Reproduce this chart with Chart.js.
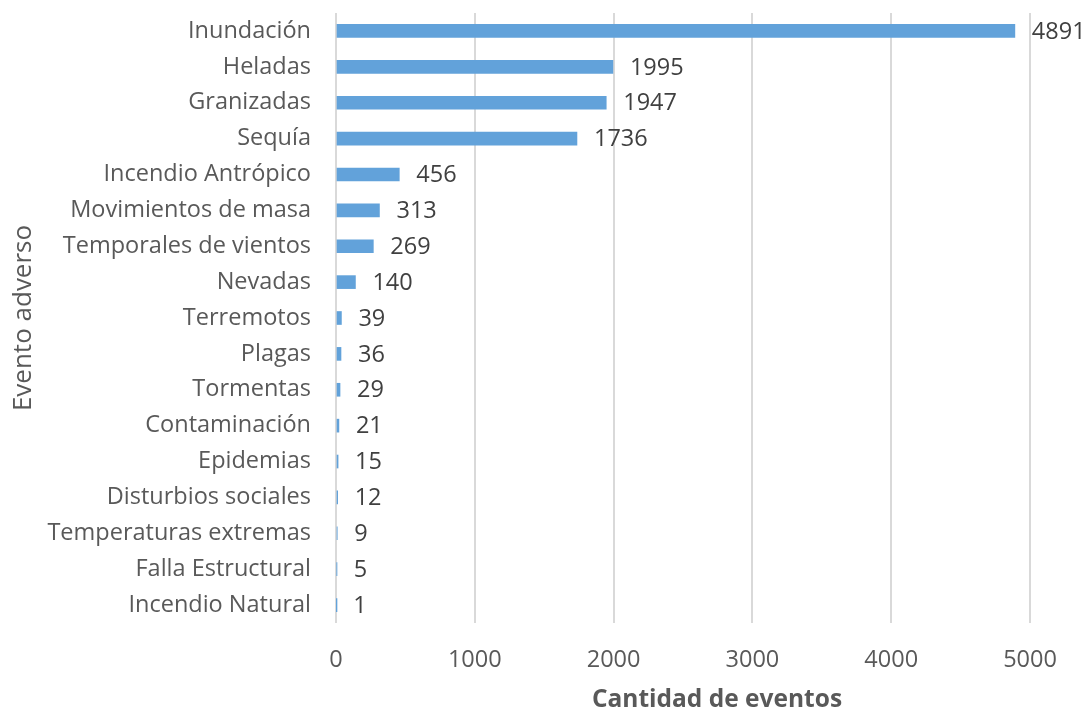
<!DOCTYPE html>
<html>
<head>
<meta charset="utf-8">
<script src="https://cdn.jsdelivr.net/npm/chart.js@4"></script>
<style>
  html, body { margin: 0; padding: 0; background: #fff; }
  #wrap { width: 1089px; height: 712px; }
</style>
</head>
<body>
<div id="wrap"><canvas id="myChart"></canvas></div>
<script>
const categories = ["Inundación", "Heladas", "Granizadas", "Sequía", "Incendio Antrópico",
  "Movimientos de masa", "Temporales de vientos", "Nevadas", "Terremotos", "Plagas",
  "Tormentas", "Contaminación", "Epidemias", "Disturbios sociales", "Temperaturas extremas",
  "Falla Estructural", "Incendio Natural"];
const eventCounts = [4891, 1995, 1947, 1736, 456, 313, 269, 140, 39, 36, 29, 21, 15, 12, 9, 5, 1];
const xTicks = [0, 1000, 2000, 3000, 4000, 5000];
const xTitle = "Cantidad de eventos";
const yTitle = "Evento adverso";

const FONT = "'Open Sans', 'DejaVu Sans', sans-serif";

// value labels to the right of each bar
const valueLabels = {
  id: "valueLabels",
  afterDatasetsDraw(chart) {
    const c = chart.ctx;
    const meta = chart.getDatasetMeta(0);
    c.save();
    c.font = "23.5px " + FONT;
    c.fillStyle = "#404040";
    c.textAlign = "left";
    c.textBaseline = "middle";
    meta.data.forEach((bar, i) => {
      c.fillText(String(eventCounts[i]), bar.x + 17, bar.y + 1);
    });
    c.restore();
  },
};

// x axis title, centred a bit right of the plot area like the original
const xAxisTitle = {
  id: "xAxisTitle",
  afterDraw(chart) {
    const c = chart.ctx;
    const area = chart.chartArea;
    c.save();
    c.font = "bold 24.5px " + FONT;
    c.fillStyle = "#595959";
    c.textAlign = "center";
    c.textBaseline = "middle";
    c.fillText(xTitle, (area.left + area.right) / 2 + 34, 700);
    c.restore();
  },
};

const ctx = document.getElementById("myChart");
const config = {
  type: "bar",
  data: {
    labels: categories,
    datasets: [
      {
        label: yTitle,
        data: eventCounts,
        backgroundColor: "#62A2DA",
        borderWidth: 0,
        barThickness: 13,
      },
    ],
  },
  options: {
    indexAxis: "y",
    responsive: true,
    maintainAspectRatio: false,
    animation: false,
    layout: { padding: { top: 13, right: 59, bottom: 0, left: 0 } },
    plugins: {
      legend: { display: false },
      tooltip: { enabled: false },
    },
    scales: {
      x: {
        min: 0,
        max: 5000,
        afterBuildTicks(scale) {
          scale.ticks = xTicks.map((v) => ({ value: v }));
        },
        afterFit(scale) {
          scale.height = 89;
          scale.paddingLeft = 0;
          scale.paddingRight = 0;
        },
        grid: { color: "#D9D9D9", lineWidth: 2, drawTicks: false },
        border: { display: false },
        ticks: {
          padding: 23,
          color: "#595959",
          font: { family: FONT, size: 23.5 },
          callback: (v) => String(v),
        },
      },
      y: {
        afterFit(scale) {
          scale.width = 336;
          scale.paddingTop = 0;
          scale.paddingBottom = 0;
        },
        grid: { display: false, drawTicks: false },
        border: { display: false },
        ticks: {
          padding: 25,
          color: "#595959",
          font: { family: FONT, size: 23.5 },
        },
        title: {
          display: true,
          text: yTitle,
          color: "#595959",
          padding: { top: 8, bottom: 0 },
          font: { family: FONT, size: 26 },
        },
      },
    },
  },
  plugins: [valueLabels, xAxisTitle],
};
myChart = new Chart(ctx, config);
</script>
</body>
</html>
